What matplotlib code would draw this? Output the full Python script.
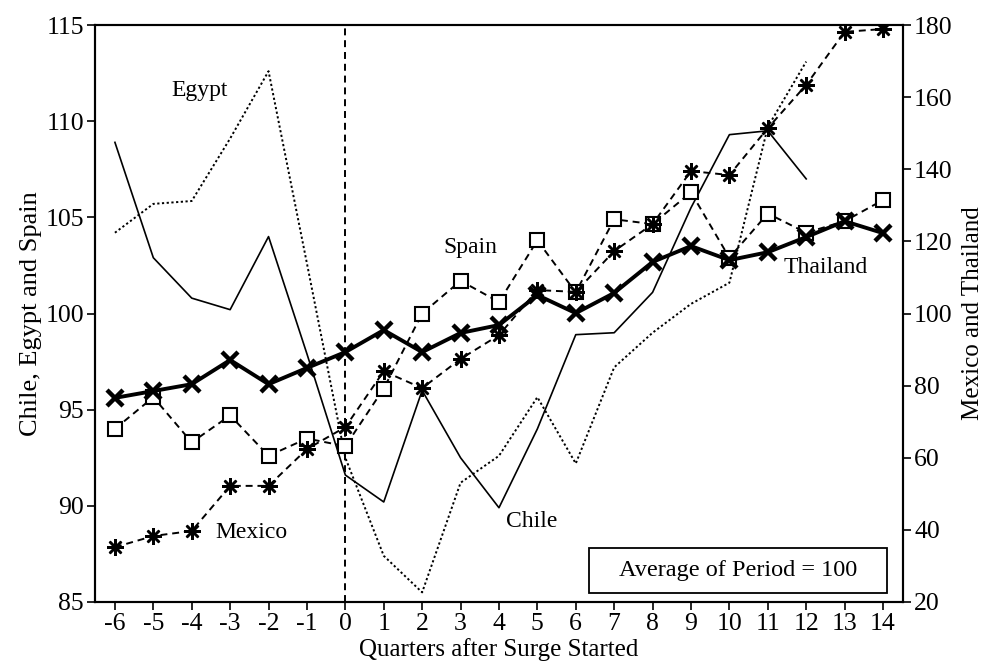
import numpy as np
import matplotlib
matplotlib.use("Agg")
import matplotlib.pyplot as plt
from matplotlib.patches import Rectangle

plt.rcParams['font.family'] = ['Liberation Serif', 'DejaVu Serif']
plt.rcParams['lines.scale_dashes'] = False
plt.rcParams['axes.unicode_minus'] = False

quarters = list(range(-6, 15))

# left axis series (index, period average = 100)
chile = [108.9, 102.9, 100.8, 100.2, 104.0, 97.9, 91.6, 90.2, 96.0, 92.5, 89.9,
         94.0, 98.9, 99.0, 101.1, 105.5, 109.3, 109.5, 107.0]
egypt = [104.2, 105.7, 105.85, 109.1, 112.6, 102.6, 92.5, 87.4, 85.5, 91.2, 92.6,
         95.65, 92.2, 97.2, 99.0, 100.5, 101.6, 109.7, 113.1]
spain = [94.0, 95.65, 93.3, 94.7, 92.6, 93.5, 93.1, 96.1, 100.0, 101.7, 100.6,
         103.8, 101.1, 104.9, 104.65, 106.3, 102.9, 105.2, 104.2, 104.8, 105.9]

# right axis series
mexico = [35.2, 38.3, 39.7, 52.2, 52.2, 62.4, 68.5, 84.0, 79.3, 87.4, 94.0,
          106.5, 106.0, 117.3, 124.8, 139.5, 138.4, 151.4, 163.4, 178.1, 178.9]
thailand = [76.6, 78.5, 80.4, 87.1, 80.4, 84.9, 89.3, 95.4, 89.3, 94.6, 96.8,
            105.1, 100.1, 105.7, 114.3, 118.7, 114.8, 117.0, 121.2, 125.6, 122.3]

left_ticks = [85, 90, 95, 100, 105, 110, 115]
right_ticks = [20, 40, 60, 80, 100, 120, 140, 160, 180]

fig = plt.figure(figsize=(9.86, 6.64), dpi=100)
ax = fig.add_axes([0.0963, 0.0934, 0.8195, 0.8689])
ax2 = ax.twinx()

q_short = quarters[:len(chile)]
ax.plot(q_short, chile, color='black', lw=1.2, zorder=3)
ax.plot(q_short, egypt, color='black', lw=1.4, linestyle=(0, (1.6, 1.8)), zorder=3)
ax.plot(quarters, spain, color='black', lw=1.4, linestyle=(0, (5, 3.5)),
        marker='s', markersize=9.5, markerfacecolor='white',
        markeredgecolor='black', markeredgewidth=1.5, zorder=4)

ax2.plot(quarters, mexico, color='black', lw=1.4, linestyle=(0, (5, 3.5)),
         marker=(8, 2, 0), markersize=12, markeredgewidth=1.8, zorder=4)
ax2.plot(quarters, thailand, color='black', lw=2.8,
         marker='x', markersize=12, markeredgewidth=3.2, zorder=5)

ax.axvline(0, color='black', lw=1.4, linestyle=(0, (5, 3.5)), zorder=2)

ax.set_xlim(-6.52, 14.52)
ax.set_ylim(85, 115)
ax2.set_ylim(20, 180)
ax.set_xticks(quarters)
ax.set_yticks(left_ticks)
ax2.set_yticks(right_ticks)

for a in (ax, ax2):
    a.tick_params(direction='out', length=6, width=1.2, labelsize=18.5, pad=2)
    for s in a.spines.values():
        s.set_linewidth(1.5)
ax.tick_params(axis='x', pad=2)

ax.set_xlabel('Quarters after Surge Started', fontsize=18, labelpad=2)
ax.set_ylabel('Chile, Egypt and Spain', fontsize=19, labelpad=2)
ax2.set_ylabel('Mexico and Thailand', fontsize=18, labelpad=7)

ax.text(-3.8, 111.6, 'Egypt', fontsize=17, ha='center', va='center')
ax.text(3.25, 103.45, 'Spain', fontsize=17, ha='center', va='center')
ax.text(12.5, 102.4, 'Thailand', fontsize=17, ha='center', va='center')
ax.text(4.85, 89.2, 'Chile', fontsize=17, ha='center', va='center')
ax.text(-2.45, 88.6, 'Mexico', fontsize=17, ha='center', va='center')

ax2.add_patch(Rectangle((0.611, 0.0156), 0.369, 0.078, transform=ax2.transAxes,
                        facecolor='white', edgecolor='black', lw=1.3, zorder=6))
ax2.text(0.7955, 0.0546, 'Average of Period = 100', transform=ax2.transAxes,
         fontsize=17.5, ha='center', va='center', zorder=7)

fig.savefig('out.png', dpi=100)
